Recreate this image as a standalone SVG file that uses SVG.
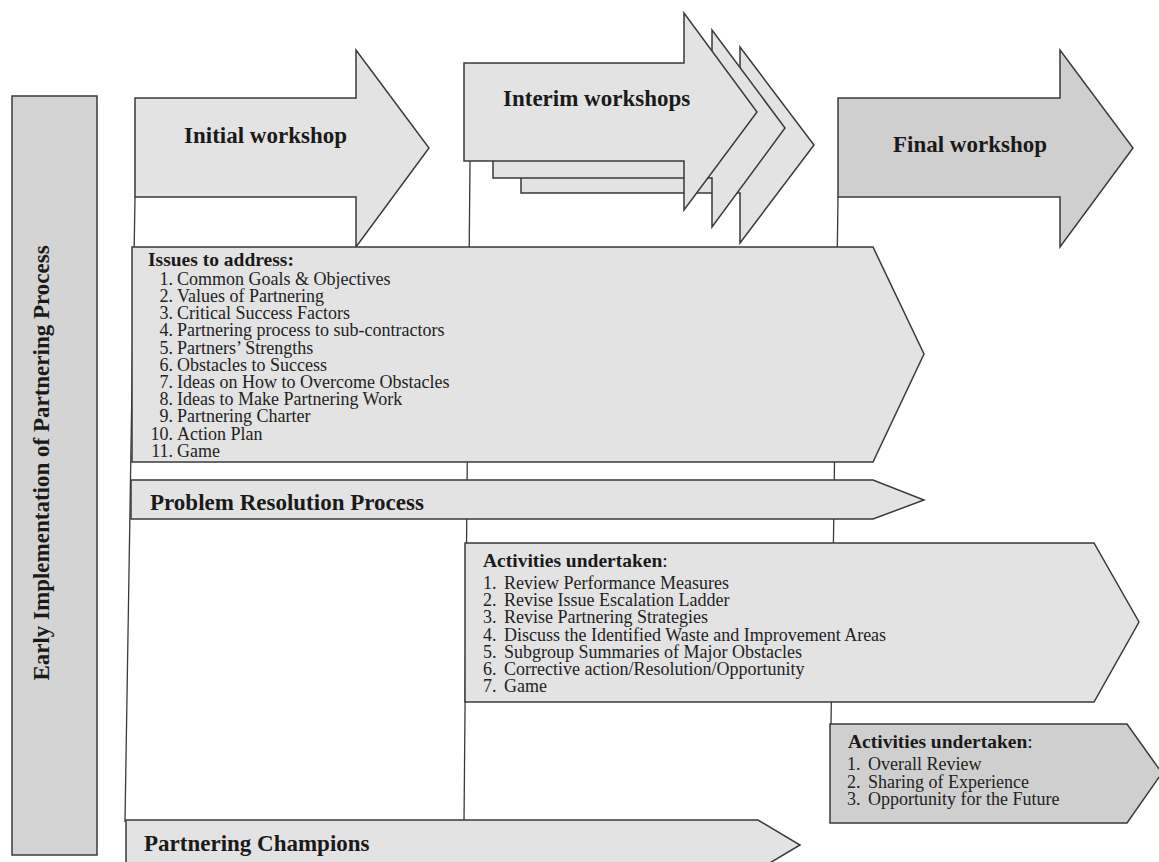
<svg xmlns="http://www.w3.org/2000/svg" width="1159" height="862" viewBox="0 0 1159 862">
  <style>
    .shape { stroke: #3a3a3a; stroke-width: 1.5; stroke-linejoin: miter; }
    .light { fill: #e3e3e3; }
    .dark { fill: #cfcfcf; }
    .bar { fill: #d4d4d4; }
    .guide { stroke: #3a3a3a; stroke-width: 1.3; fill: none; }
    .title { font-family: "Liberation Serif", "Times New Roman", serif; font-weight: bold; font-size: 23px; fill: #1a1a1a; }
    .head { font-family: "Liberation Serif", "Times New Roman", serif; font-weight: bold; font-size: 19.5px; fill: #1a1a1a; }
    .item { font-family: "Liberation Serif", "Times New Roman", serif; font-size: 18px; fill: #222; }
  </style>

  <rect width="1159" height="862" fill="#ffffff"/>

  <!-- vertical timeline guides behind the boxes -->
  <g id="connectors">
    <line class="guide" x1="135" y1="197" x2="125" y2="822"/>
    <line class="guide" x1="470" y1="161" x2="464" y2="822"/>
    <line class="guide" x1="838" y1="197" x2="831" y2="725"/>
  </g>

  <!-- side label bar -->
  <g id="side-bar">
    <rect class="shape bar" x="12" y="96" width="85" height="759"/>
    <text class="title" transform="translate(49,463) rotate(-90)" text-anchor="middle">Early Implementation of Partnering Process</text>
  </g>

  <!-- workshop arrows -->
  <g id="initial-workshop">
    <polygon class="shape light" points="135,98 356,98 356,50 429,148 356,247 356,197 135,197"/>
    <text class="title" x="184" y="143">Initial workshop</text>
  </g>

  <g id="interim-workshops">
    <polygon class="shape light" points="521,95 740,95 740,47 814,145 740,243 740,193 521,193"/>
    <polygon class="shape light" points="493,79 712,79 712,30 785,128 712,227 712,178 493,178"/>
    <polygon class="shape light" points="464,63 684,63 684,13 757,112 684,210 684,161 464,161"/>
    <text class="title" x="503" y="106">Interim workshops</text>
  </g>

  <g id="final-workshop">
    <polygon class="shape dark" points="838,98 1060,98 1060,50 1133,148 1060,247 1060,197 838,197"/>
    <text class="title" x="893" y="152">Final workshop</text>
  </g>

  <!-- issues list -->
  <g id="issues">
    <polygon class="shape light" points="132,247 873,247 924,354 873,462 132,462"/>
    <text class="head" x="148" y="266">Issues to address:</text>
    <g class="item">
      <text x="173" y="285" text-anchor="end">1.</text><text x="177" y="285">Common Goals &amp; Objectives</text>
      <text x="173" y="302" text-anchor="end">2.</text><text x="177" y="302">Values of Partnering</text>
      <text x="173" y="319" text-anchor="end">3.</text><text x="177" y="319">Critical Success Factors</text>
      <text x="173" y="336" text-anchor="end">4.</text><text x="177" y="336">Partnering process to sub-contractors</text>
      <text x="173" y="354" text-anchor="end">5.</text><text x="177" y="354">Partners’ Strengths</text>
      <text x="173" y="371" text-anchor="end">6.</text><text x="177" y="371">Obstacles to Success</text>
      <text x="173" y="388" text-anchor="end">7.</text><text x="177" y="388">Ideas on How to Overcome Obstacles</text>
      <text x="173" y="405" text-anchor="end">8.</text><text x="177" y="405">Ideas to Make Partnering Work</text>
      <text x="173" y="422" text-anchor="end">9.</text><text x="177" y="422">Partnering Charter</text>
      <text x="173" y="440" text-anchor="end">10.</text><text x="177" y="440">Action Plan</text>
      <text x="173" y="457" text-anchor="end">11.</text><text x="177" y="457">Game</text>
    </g>
  </g>

  <g id="problem-resolution">
    <polygon class="shape light" points="131,480 873,480 924,500 873,519 131,519"/>
    <text class="title" x="150" y="510">Problem Resolution Process</text>
  </g>

  <!-- interim activities -->
  <g id="interim-activities">
    <polygon class="shape light" points="465,543 1094,543 1139,622 1094,702 465,702"/>
    <text class="head" x="483" y="567">Activities undertaken<tspan font-weight="normal">:</tspan></text>
    <g class="item">
      <text x="483" y="589">1.</text><text x="504" y="589">Review Performance Measures</text>
      <text x="483" y="606">2.</text><text x="504" y="606">Revise Issue Escalation Ladder</text>
      <text x="483" y="623">3.</text><text x="504" y="623">Revise Partnering Strategies</text>
      <text x="483" y="641">4.</text><text x="504" y="641">Discuss the Identified Waste and Improvement Areas</text>
      <text x="483" y="658">5.</text><text x="504" y="658">Subgroup Summaries of Major Obstacles</text>
      <text x="483" y="675">6.</text><text x="504" y="675">Corrective action/Resolution/Opportunity</text>
      <text x="483" y="692">7.</text><text x="504" y="692">Game</text>
    </g>
  </g>

  <!-- final activities -->
  <g id="final-activities">
    <polygon class="shape dark" points="830,724 1127,724 1162,773 1127,823 830,823"/>
    <text class="head" x="848" y="748">Activities undertaken<tspan font-weight="normal">:</tspan></text>
    <g class="item">
      <text x="847" y="770">1.</text><text x="868" y="770">Overall Review</text>
      <text x="847" y="788">2.</text><text x="868" y="788">Sharing of Experience</text>
      <text x="847" y="805">3.</text><text x="868" y="805">Opportunity for the Future</text>
    </g>
  </g>

  <g id="partnering-champions">
    <polygon class="shape light" points="126,820 758,820 800,845 758,870 126,870"/>
    <text class="title" x="144" y="851">Partnering Champions</text>
  </g>
</svg>
